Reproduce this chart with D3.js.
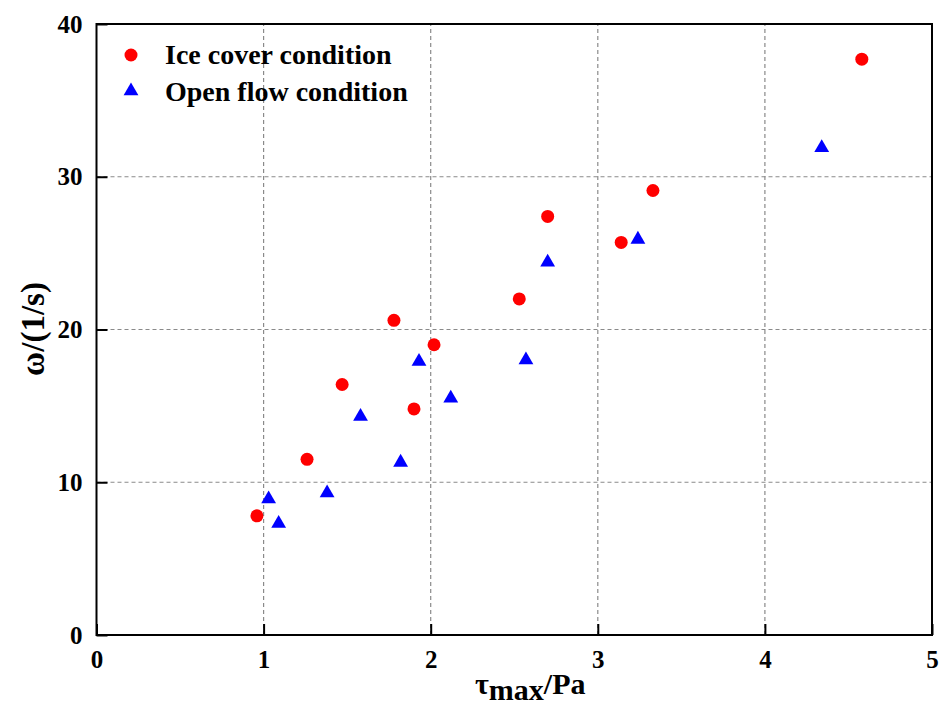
<!DOCTYPE html>
<html>
<head>
<meta charset="utf-8">
<script src="https://cdn.jsdelivr.net/npm/d3@7"></script>
<style>
  body { margin: 0; background: #fff; }
  text { font-family: "Liberation Serif", "Times New Roman", serif; font-weight: bold; }
</style>
</head>
<body>
<svg id="chart" width="943" height="707"></svg>
<script>
// data
var iceX = [0.96, 1.26, 1.47, 1.78, 1.90, 2.02, 2.53, 2.70, 3.14, 3.33, 4.58];
var iceY = [7.8, 11.5, 16.4, 20.6, 14.8, 19.0, 22.0, 27.4, 25.7, 29.1, 37.7];
var openX = [1.03, 1.09, 1.38, 1.58, 1.82, 1.93, 2.12, 2.57, 2.70, 3.24, 4.34];
var openY = [8.9, 7.3, 9.3, 14.3, 11.3, 17.9, 15.5, 18.0, 24.4, 25.9, 31.9];
var xTicks = [0, 1, 2, 3, 4, 5];
var yTicks = [0, 10, 20, 30, 40];
var seriesNames = ["Ice cover condition", "Open flow condition"];

var svg = d3.select('#chart');
var margin = {top: 24, right: 11, bottom: 72, left: 96.5},
    width = 943, height = 707;

var x = d3.scaleLinear().domain([0, 5]).range([margin.left, width - margin.right]);
var y = d3.scaleLinear().domain([0, 40]).range([height - margin.bottom, margin.top]);

// grid
var grid = svg.append('g').attr('class', 'grid');
grid.selectAll('.vg')
    .data(xTicks.slice(1, -1))
    .enter().append('line')
      .attr('x1', d => x(d)).attr('x2', d => x(d))
      .attr('y1', y(0)).attr('y2', y(40))
      .attr('stroke', '#8a8a8a').attr('stroke-width', 1.2)
      .attr('stroke-dasharray', '4,3');
grid.selectAll('.hg')
    .data(yTicks.slice(1, -1))
    .enter().append('line')
      .attr('x1', x(0)).attr('x2', x(5))
      .attr('y1', d => y(d)).attr('y2', d => y(d))
      .attr('stroke', '#8a8a8a').attr('stroke-width', 1.2)
      .attr('stroke-dasharray', '4,3');

// axes
var gX = svg.append('g')
    .attr('transform', 'translate(0,' + y(0) + ')')
    .call(d3.axisBottom(x).tickValues(xTicks).tickSize(-11).tickPadding(15).tickSizeOuter(0).tickFormat(d3.format('d')));
var gY = svg.append('g')
    .attr('transform', 'translate(' + x(0) + ',0)')
    .call(d3.axisLeft(y).tickValues(yTicks).tickSize(-11).tickPadding(14).tickSizeOuter(0).tickFormat(d3.format('d')));

[gX, gY].forEach(g => {
  g.select('.domain').remove();
  g.selectAll('line').attr('stroke', '#000').attr('stroke-width', 2);
  g.selectAll('text').attr('font-size', 25).attr('fill', '#000')
    .style('font-family', '"Liberation Serif", serif').style('font-weight', 'bold');
});

// frame
svg.append('rect')
    .attr('x', x(0)).attr('y', y(40))
    .attr('width', x(5) - x(0)).attr('height', y(0) - y(40))
    .attr('fill', 'none').attr('stroke', '#000').attr('stroke-width', 2);

// points
var tri = d3.symbol().type(d3.symbolTriangle).size(95);

svg.selectAll('.ice')
    .data(d3.range(iceX.length))
    .enter().append('circle')
      .attr('cx', i => x(iceX[i]))
      .attr('cy', i => y(iceY[i]))
      .attr('r', 6.5)
      .attr('fill', '#ff0000');

svg.selectAll('.open')
    .data(d3.range(openX.length))
    .enter().append('path')
      .attr('d', tri)
      .attr('transform', i => 'translate(' + x(openX[i]) + ',' + y(openY[i]) + ')')
      .attr('fill', '#0000ff');

// legend
var legend = svg.append('g');
legend.append('circle').attr('cx', 131).attr('cy', 55).attr('r', 6.5).attr('fill', '#ff0000');
legend.append('path').attr('d', tri).attr('transform', 'translate(131,91)').attr('fill', '#0000ff');
legend.selectAll('.lab')
    .data(seriesNames)
    .enter().append('text')
      .attr('x', 165)
      .attr('y', (d, i) => 64 + i * 37)
      .attr('font-size', 28)
      .text(d => d);

// axis titles
var xt = svg.append('text')
    .attr('x', 475).attr('y', 694)
    .attr('font-size', 30);
xt.append('tspan').text('τ');
xt.append('tspan').attr('dy', 6).text('max');
xt.append('tspan').attr('dy', -6).text('/Pa');

svg.append('text')
    .attr('transform', 'translate(44,329) rotate(-90)')
    .attr('text-anchor', 'middle')
    .attr('font-size', 33)
    .text('ω/(1/s)');
</script>
</body>
</html>
